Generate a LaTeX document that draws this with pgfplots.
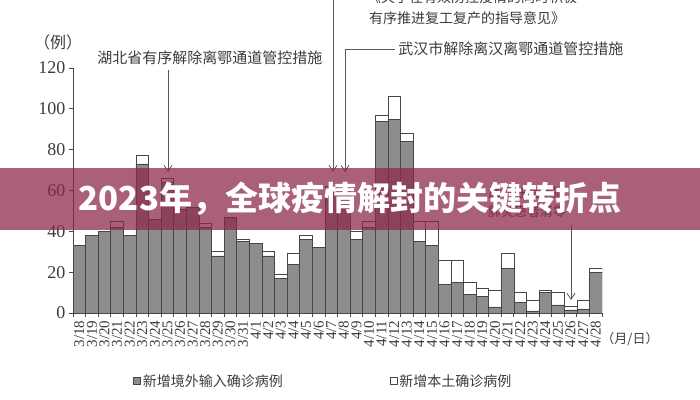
\documentclass[border=0pt]{standalone}
\usepackage{fontspec}
\setmainfont{Liberation Serif}
\newfontfamily\cjk{Noto Sans CJK SC}
\usepackage{pgfplots}
\pgfplotsset{compat=1.18}
\usetikzlibrary{arrows.meta}

\definecolor{bargray}{RGB}{141,141,141}
\definecolor{edge}{RGB}{70,70,70}
\definecolor{ink}{RGB}{60,60,60}
\definecolor{leader}{RGB}{90,90,90}
\definecolor{banner}{RGB}{140,40,75}

% date, imported (gray), local (white)
\pgfplotstableread{
idx date gray white
0 3/18 33 0
1 3/19 38 0
2 3/20 40 0
3 3/21 42 3
4 3/22 38 0
5 3/23 73 4
6 3/24 46 0
7 3/25 64 2
8 3/26 51 0
9 3/27 52 0
10 3/28 42 2
11 3/29 28 2
12 3/30 47 0
13 3/31 35 1
14 4/1 34 0
15 4/2 28 2
16 4/3 17 2
17 4/4 24 5
18 4/5 36 2
19 4/6 32 0
20 4/7 59 3
21 4/8 61 2
22 4/9 36 4
23 4/10 42 3
24 4/11 94 3
25 4/12 95 11
26 4/13 84 4
27 4/14 35 10
28 4/15 33 12
29 4/16 14 12
30 4/17 15 11
31 4/18 9 6
32 4/19 8 4
33 4/20 3 8
34 4/21 22 7
35 4/22 5 5
36 4/23 1 5
37 4/24 10 1
38 4/25 4 6
39 4/26 1.5 2
40 4/27 2 4
41 4/28 20 2
}\cases

\begin{document}
\begin{tikzpicture}
  \path[use as bounding box, clip] (0bp,0bp) rectangle (700bp,-400bp);
  \begin{axis}[
    at={(73bp,-313bp)}, anchor=south west,
    scale only axis, width=529bp, height=245bp,
    ybar stacked, bar width=1,
    xmin=-0.5, xmax=41.5, ymin=0, ymax=120,
    axis lines*=left,
    axis line style={draw=edge, line width=0.9bp, -},
    xtick={0,...,41},
    xticklabels from table={\cases}{date},
    major x tick style={draw=none},
    minor xtick={-0.5,0.5,...,41.5},
    ytick={0,20,...,120},
    tick align=outside,
    tick style={draw=edge, line width=0.7bp},
    major tick length=4bp, minor tick length=4bp,
    /pgf/number format/assume math mode=true,
    xticklabel style={rotate=90, anchor=east, text=ink,
      font=\fontsize{15bp}{15bp}\selectfont},
    yticklabel style={text=ink, font=\fontsize{18bp}{18bp}\selectfont},
    legend columns=2,
    legend style={at={(0.108,-0.278)}, anchor=west, draw=none, fill=none,
      text=ink, font=\cjk\fontsize{14bp}{14bp}\selectfont,
      /tikz/every even column/.append style={column sep=105bp}},
    legend image code/.code={\draw[#1, line width=0.6bp] (0bp,-3.5bp) rectangle (7bp,3.5bp);},
  ]
    \addplot[fill=bargray, draw=edge, line width=0.6bp] table[x=idx, y=gray]{\cases};
    \addlegendentry{新增境外输入确诊病例}
    \addplot[fill=white, draw=edge, line width=0.6bp] table[x=idx, y=white]{\cases};
    \addlegendentry{新增本土确诊病例}
  \end{axis}

  \begin{scope}[x=1bp, y=-1bp, every node/.style={text=ink, inner sep=0pt},
      arr/.style={draw=leader, line width=0.8bp,
        -{Straight Barb[length=6bp,width=8bp]}}]
    \node[font=\cjk\fontsize{16bp}{16bp}\selectfont] at (58,42) {（例）};
    \node[font=\cjk\fontsize{15bp}{15bp}\selectfont] at (210,58) {湖北省有序解除离鄂通道管控措施};
    \draw[arr] (168,70) -- (168,172);

    \draw[arr] (362,-3) -- (333,-3) -- (333,172);
    \node[anchor=west, font=\cjk\fontsize{14bp}{14bp}\selectfont] at (367,-3) {《关于在有效防控疫情的同时积极};
    \node[anchor=west, font=\cjk\fontsize{14bp}{14bp}\selectfont] at (369,18) {有序推进复工复产的指导意见》};

    \node[font=\cjk\fontsize{15bp}{15bp}\selectfont] at (511,49) {武汉市解除离汉离鄂通道管控措施};
    \draw[arr] (395,49) -- (345,49) -- (345,172);

    \node[font=\cjk\fontsize{13bp}{13bp}\selectfont] at (527,193) {武汉在院新冠};
    \node[font=\cjk\fontsize{13bp}{13bp}\selectfont] at (527,212) {肺炎患者清零};
    \draw[arr] (571,225) -- (571,300);

    \node[font=\cjk\fontsize{13bp}{13bp}\selectfont] at (630,339) {（月/日）};

    \fill[banner, opacity=0.74] (0,168) rectangle (700,230);
    \node[text=white, font=\cjk\bfseries\fontsize{33bp}{33bp}\selectfont] at (350,199)
      {2023年，全球疫情解封的关键转折点};
  \end{scope}
\end{tikzpicture}
\end{document}
